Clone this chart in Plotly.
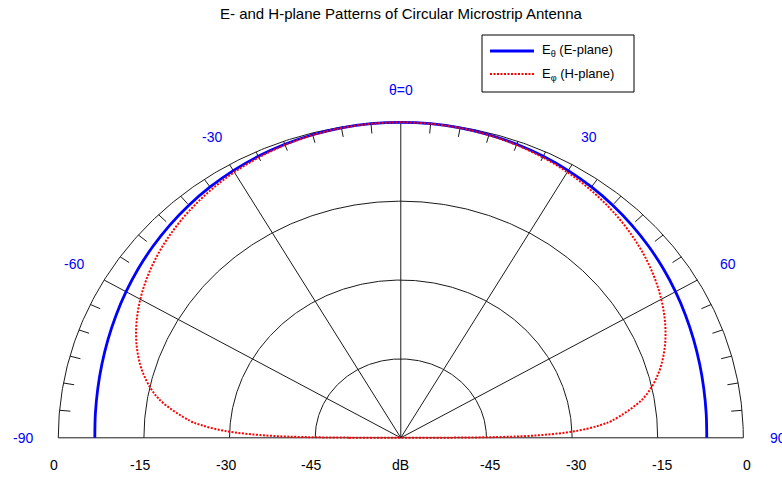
import numpy as np
import plotly.graph_objects as go

# Normalised far-field patterns (dB), symmetric about broadside
theta_e_deg = [0, 5, 10, 15, 20, 25, 30, 35, 40, 45, 50, 55, 60, 65, 70, 75, 80, 85, 90]
e_plane_db = [0.0, -0.04, -0.15, -0.34, -0.60, -0.93, -1.32, -1.76, -2.25, -2.78,
              -3.33, -3.88, -4.43, -4.95, -5.41, -5.80, -6.10, -6.30, -6.40]

theta_h_deg = [0, 5, 10, 15, 20, 25, 30, 35, 40, 45, 50, 55, 60, 65, 70, 75, 80, 85,
               86, 87, 88, 89, 89.5, 89.8, 90]
h_plane_db = [0.0, -0.05, -0.18, -0.41, -0.74, -1.16, -1.67, -2.29, -3.02, -3.86,
              -4.84, -5.98, -7.31, -8.89, -10.84, -13.35, -16.88, -22.91,
              -24.85, -27.35, -30.87, -36.89, -42.9, -50.9, -60.0]

# Grid definition
db_floor = -60.0
ring_db = [0, -15, -30, -45]
ring_labels = ["0", "-15", "-30", "-45"]
spoke_deg = [-60, -30, 0, 30, 60]
angle_label_deg = [-90, -60, -30, 0, 30, 60, 90]
angle_label_text = ["-90", "-60", "-30", "θ=0", "30", "60", "90"]

FONT = "Liberation Sans, Arial, Helvetica, sans-serif"
GRID = "#1a1a1a"


def to_xy(theta_deg, db):
    t = np.radians(np.asarray(theta_deg, dtype=float))
    r = np.clip(np.asarray(db, dtype=float) - db_floor, 0, None)
    return r * np.sin(t), r * np.cos(t)


def mirrored(theta, vals):
    th = [-a for a in theta[::-1]] + list(theta[1:])
    v = list(vals[::-1]) + list(vals[1:])
    return th, v


fig = go.Figure()

# concentric half-rings
phi = np.linspace(-90, 90, 361)
for d in ring_db:
    x, y = to_xy(phi, np.full_like(phi, d))
    fig.add_trace(go.Scatter(x=x, y=y, mode="lines", line=dict(color=GRID, width=1),
                             hoverinfo="skip", showlegend=False))

# radial spokes and baseline
sx, sy = [], []
for a in spoke_deg:
    x, y = to_xy([a, a], [db_floor, 0])
    sx += list(x) + [None]
    sy += list(y) + [None]
x, y = to_xy([-90, 90], [0, 0])
sx += list(x) + [None]
sy += list(y) + [None]
fig.add_trace(go.Scatter(x=sx, y=sy, mode="lines", line=dict(color=GRID, width=1),
                         hoverinfo="skip", showlegend=False))

# 5-degree ticks on the outer ring
tx, ty = [], []
for a in range(-85, 90, 5):
    if a % 30 == 0:
        continue
    x, y = to_xy([a, a], [0, -1.9])
    tx += list(x) + [None]
    ty += list(y) + [None]
fig.add_trace(go.Scatter(x=tx, y=ty, mode="lines", line=dict(color=GRID, width=1),
                         hoverinfo="skip", showlegend=False))

# patterns
th, v = mirrored(theta_e_deg, e_plane_db)
ex, ey = to_xy(th, v)
fig.add_trace(go.Scatter(x=ex, y=ey, mode="lines", name="E<sub>θ</sub> (E-plane)",
                         line=dict(color="#0000ff", width=2.8, shape="spline"),
                         showlegend=False))
th, v = mirrored(theta_h_deg, h_plane_db)
hx, hy = to_xy(th, v)
fig.add_trace(go.Scatter(x=hx, y=hy, mode="lines", name="E<sub>φ</sub> (H-plane)",
                         line=dict(color="#ff0000", width=2, dash="2px,1.5px", shape="spline"),
                         showlegend=False))

annotations = []
# dB labels under the baseline
lab_y = -5.17
for d, t in zip(ring_db, ring_labels):
    r = d - db_floor
    annotations.append(dict(x=-r, y=lab_y, text=t, showarrow=False, xshift=-4,
                            font=dict(size=14, color="black", family=FONT)))
    annotations.append(dict(x=r, y=lab_y, text=t, showarrow=False, xshift=4,
                            font=dict(size=14, color="black", family=FONT)))
annotations.append(dict(x=0, y=lab_y, text="dB", showarrow=False,
                        font=dict(size=14, color="black", family=FONT)))

# angle labels
for a, t in zip(angle_label_deg, angle_label_text):
    x, y = to_xy([a], [6.1])
    annotations.append(dict(x=float(x[0]), y=float(y[0]), text=t, showarrow=False,
                            font=dict(size=14, color="#0000ff", family=FONT)))

# title
annotations.append(dict(x=0.513, y=1 - 14 / 477, xref="paper", yref="paper",
                        xanchor="center", yanchor="middle",
                        text="E- and H-plane Patterns of Circular Microstrip Antenna",
                        showarrow=False, font=dict(size=15, color="black", family=FONT)))

# legend entries
W, H = 782.0, 477.0
leg_items = [("E<sub>θ</sub> (E-plane)", 51, dict(color="#0000ff", width=2.8)),
             ("E<sub>φ</sub> (H-plane)", 74, dict(color="#ff0000", width=2, dash="2px,1.5px"))]
shapes = [dict(type="rect", xref="paper", yref="paper",
               x0=482 / W, x1=634 / W, y0=1 - 92 / H, y1=1 - 35 / H,
               line=dict(color="black", width=1), fillcolor="white", layer="above")]
for text, py, ln in leg_items:
    shapes.append(dict(type="line", xref="paper", yref="paper",
                       x0=490 / W, x1=534 / W, y0=1 - py / H, y1=1 - py / H,
                       line=ln, layer="above"))
    annotations.append(dict(x=540 / W, y=1 - py / H, xref="paper", yref="paper",
                            xanchor="left", yanchor="middle", text=text, showarrow=False,
                            font=dict(size=13, color="black", family=FONT)))

fig.update_layout(
    width=782, height=477,
    margin=dict(l=0, r=0, t=0, b=0),
    paper_bgcolor="white", plot_bgcolor="white",
    xaxis=dict(range=[-70.21, 66.78], visible=False, fixedrange=True),
    yaxis=dict(range=[-7.455, 83.26], visible=False, fixedrange=True),
    annotations=annotations,
    shapes=shapes,
    showlegend=False,
)

fig.write_html("out.html")
